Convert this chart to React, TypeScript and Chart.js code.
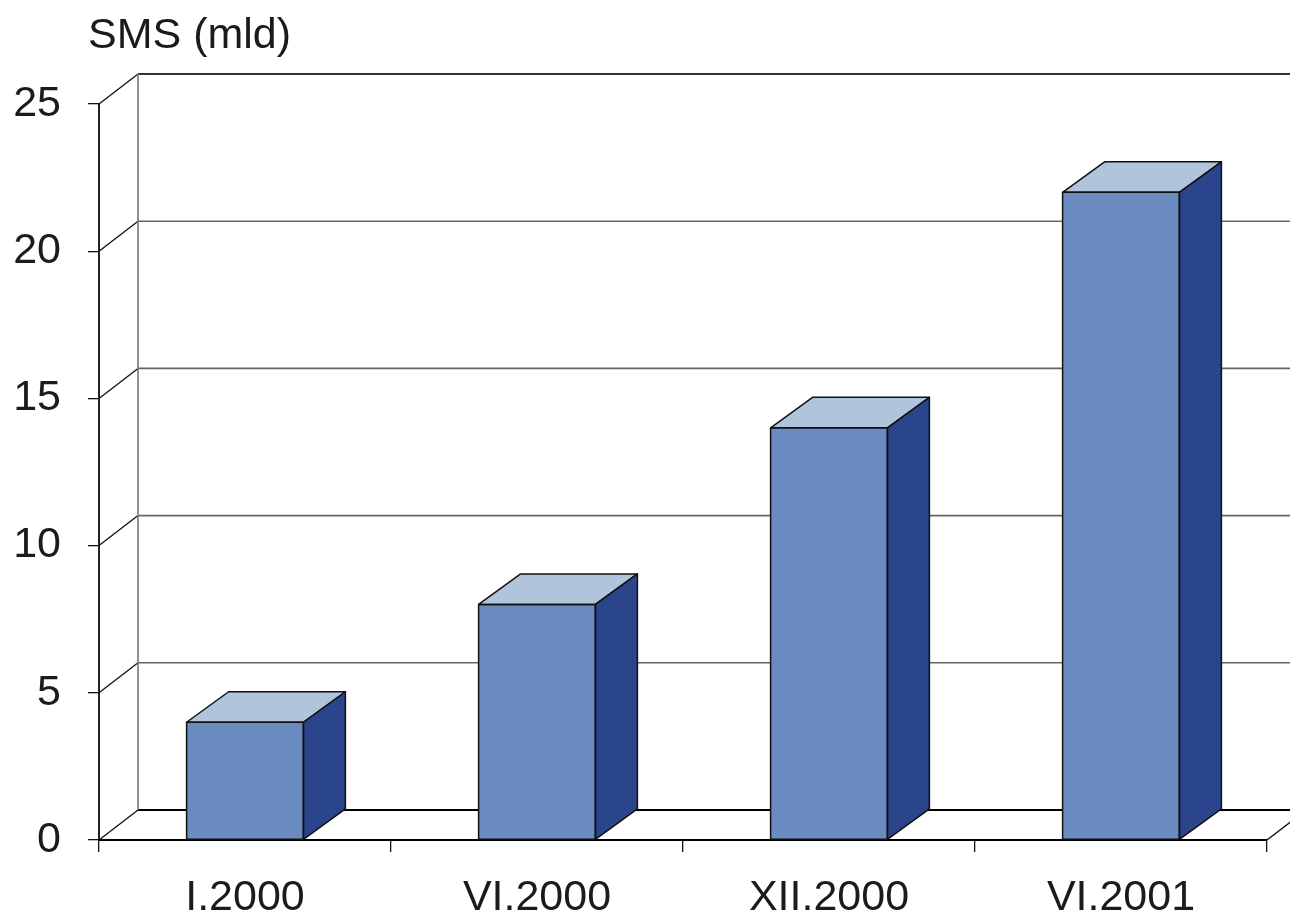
import React, { useEffect, useRef } from "react";
import { Chart, registerables } from "chart.js";

Chart.register(...registerables);

const categories = ["I.2000", "VI.2000", "XII.2000", "VI.2001"];
const smsValues = [4, 8, 14, 22];
const yMin = 0;
const yMax = 25;
const yStep = 5;
const axisTitle = "SMS (mld)";

const FONT = "'Liberation Sans', Arial, sans-serif";
const FONT_SIZE = 43;
const FRONT = "#6a8bbf";
const SIDE = "#2a458c";
const TOP = "#b0c4dc";

const WALL_DX = 39;
const WALL_DY = 30;
const BAR_DX = 42;
const BAR_DY = 30.5;

const threeDPlugin = {
  id: "threeD",
  beforeDatasetsDraw(chart: any) {
    const { ctx, chartArea, scales } = chart;
    const { left, right, top, bottom } = chartArea;
    const y = scales.y;
    ctx.save();
    for (const t of y.ticks) {
      const py = y.getPixelForValue(t.value);
      ctx.beginPath();
      ctx.moveTo(left, py);
      ctx.lineTo(left + WALL_DX, py - WALL_DY);
      ctx.strokeStyle = "#111";
      ctx.lineWidth = 1.3;
      ctx.stroke();
      ctx.beginPath();
      ctx.moveTo(left + WALL_DX, py - WALL_DY);
      ctx.lineTo(chart.width + 5, py - WALL_DY);
      if (t.value === yMin) {
        ctx.strokeStyle = "#000";
        ctx.lineWidth = 2;
      } else if (t.value === yMax) {
        ctx.strokeStyle = "#333";
        ctx.lineWidth = 2;
      } else {
        ctx.strokeStyle = "#666";
        ctx.lineWidth = 1.6;
      }
      ctx.stroke();
    }
    ctx.beginPath();
    ctx.moveTo(left + WALL_DX, top - WALL_DY);
    ctx.lineTo(left + WALL_DX, bottom - WALL_DY);
    ctx.strokeStyle = "#777";
    ctx.lineWidth = 1.6;
    ctx.stroke();
    ctx.beginPath();
    ctx.moveTo(right, bottom);
    ctx.lineTo(right + WALL_DX, bottom - WALL_DY);
    ctx.strokeStyle = "#111";
    ctx.lineWidth = 1.3;
    ctx.stroke();
    ctx.restore();
  },
  afterDatasetsDraw(chart: any) {
    const { ctx } = chart;
    const meta = chart.getDatasetMeta(0);
    ctx.save();
    ctx.lineJoin = "round";
    ctx.strokeStyle = "#111";
    ctx.lineWidth = 1.5;
    for (const el of meta.data) {
      const { x, y, base, width } = el.getProps(["x", "y", "base", "width"], true);
      const l = x - width / 2;
      const r = x + width / 2;
      // top face
      ctx.beginPath();
      ctx.moveTo(l, y);
      ctx.lineTo(l + BAR_DX, y - BAR_DY);
      ctx.lineTo(r + BAR_DX, y - BAR_DY);
      ctx.lineTo(r, y);
      ctx.closePath();
      ctx.fillStyle = TOP;
      ctx.fill();
      ctx.stroke();
      // side face
      ctx.beginPath();
      ctx.moveTo(r, y);
      ctx.lineTo(r + BAR_DX, y - BAR_DY);
      ctx.lineTo(r + BAR_DX, base - BAR_DY);
      ctx.lineTo(r, base);
      ctx.closePath();
      ctx.fillStyle = SIDE;
      ctx.fill();
      ctx.stroke();
      // front outline
      ctx.strokeRect(l, y, width, base - y);
    }
    ctx.restore();
  },
  afterDraw(chart: any) {
    const { ctx } = chart;
    ctx.save();
    ctx.font = `${FONT_SIZE}px ${FONT}`;
    ctx.fillStyle = "#1e1a1b";
    ctx.textAlign = "left";
    ctx.textBaseline = "alphabetic";
    ctx.fillText(axisTitle, 88, 48);
    ctx.restore();
  },
};

export default function App() {
  const canvasRef = useRef<HTMLCanvasElement | null>(null);

  useEffect(() => {
    if (!canvasRef.current) return;
    const chart = new Chart(canvasRef.current, {
      type: "bar",
      data: {
        labels: categories,
        datasets: [
          {
            data: smsValues,
            backgroundColor: FRONT,
            borderWidth: 0,
            barPercentage: 0.4,
            categoryPercentage: 1,
          },
        ],
      },
      options: {
        responsive: false,
        animation: false,
        layout: { padding: { top: 104, right: 23, left: 0, bottom: 0 } },
        plugins: {
          legend: { display: false },
          tooltip: { enabled: false },
          title: { display: false },
        },
        scales: {
          x: {
            offset: true,
            grid: {
              offset: true,
              drawOnChartArea: false,
              drawTicks: true,
              tickLength: 12,
              color: "#111",
              lineWidth: 1.3,
            },
            border: { display: true, color: "#000", width: 2 },
            ticks: {
              font: { family: FONT, size: FONT_SIZE },
              color: "#1e1a1b",
              padding: 20,
              maxRotation: 0,
              autoSkip: false,
            },
            afterFit: (scale: any) => {
              scale.height = 77;
            },
          },
          y: {
            min: yMin,
            max: yMax,
            grid: {
              drawOnChartArea: false,
              drawTicks: true,
              tickLength: 11,
              color: "#111",
              lineWidth: 1.3,
            },
            border: { display: true, color: "#222", width: 2 },
            ticks: {
              stepSize: yStep,
              font: { family: FONT, size: FONT_SIZE },
              color: "#1e1a1b",
              padding: 27,
            },
            afterFit: (scale: any) => {
              scale.width = 99;
            },
          },
        },
      },
      plugins: [threeDPlugin],
    });
    return () => chart.destroy();
  }, []);

  return (
    <div style={{ position: "absolute", left: 0, top: 0, width: 1290, height: 917, background: "#fff" }}>
      <canvas ref={canvasRef} width={1290} height={917} style={{ display: "block" }} />
    </div>
  );
}
